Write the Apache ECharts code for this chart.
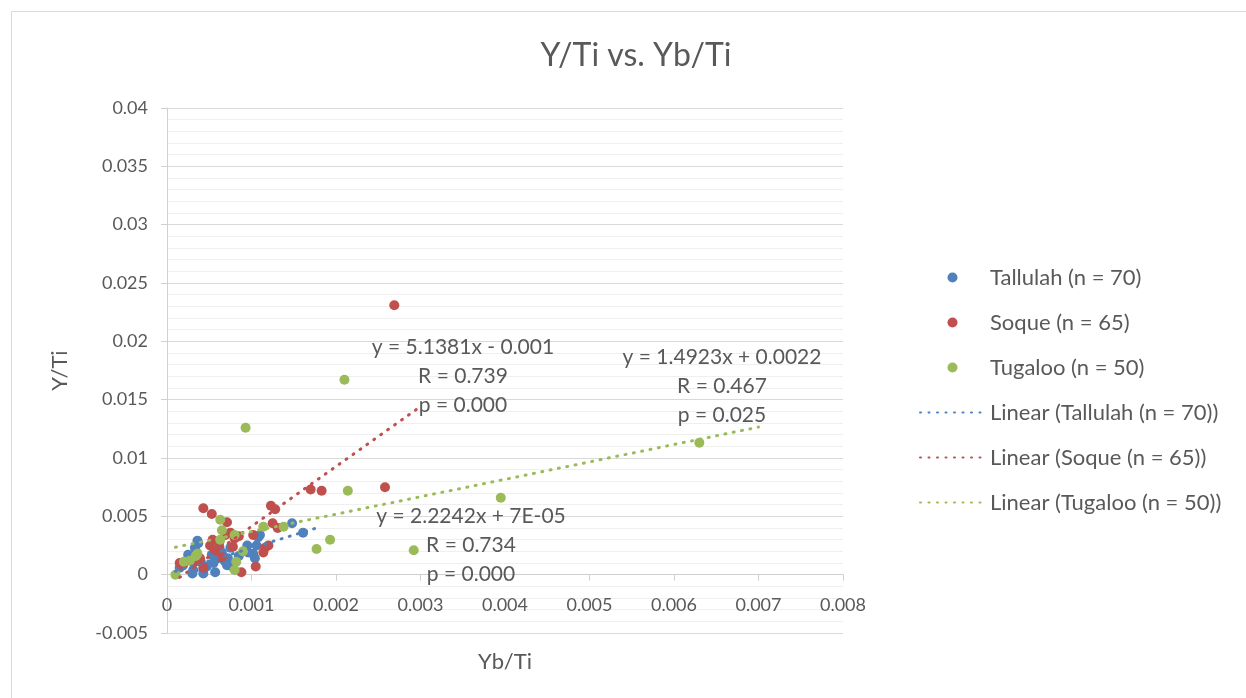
<!DOCTYPE html>
<html>
<head>
<meta charset="utf-8">
<style>
html,body{margin:0;padding:0;background:#fff;}
#chart{width:1246px;height:698px;}
</style>
<script src="https://cdn.jsdelivr.net/npm/echarts@6/dist/echarts.min.js"></script>
</head>
<body>
<div id="chart"></div>
<script>
// ---- Data ----
const seriesNames = ['Tallulah (n = 70)', 'Soque (n = 65)', 'Tugaloo (n = 50)'];
const trendNames = ['Linear (Tallulah (n = 70))', 'Linear (Soque (n = 65))', 'Linear (Tugaloo (n = 50))'];

const tallulah = [
  [0.00148,0.0044],[0.00161,0.0036],[0.00108,0.0032],[0.00106,0.0025],[0.00095,0.0025],
  [0.00102,0.0018],[0.00104,0.0014],[0.00096,0.0019],[0.00075,0.0023],[0.00072,0.0014],
  [0.00077,0.0007],[0.0006,0.0014],[0.00055,0.001],[0.00047,0.0007],[0.00043,0.0004],
  [0.00031,0.0004],[0.0003,0.0001],[0.00035,0.0019],[0.00037,0.0015],[0.00033,0.0023],
  [0.00025,0.0017],[0.00015,0.0006],[0.00019,0.0008],[0.00053,0.0017],[0.00065,0.0019],
  [0.00036,0.0029],[0.00043,0.0001],[0.00071,0.0008],[0.00057,0.0002],[0.00028,0.0012],
  [0.00062,0.0024],[0.00085,0.0016],[0.0004,0.0011],[0.00068,0.0012],[0.0011,0.0034],
  [0.00037,0.0027]
];
const soque = [
  [0.00269,0.0231],[0.00258,0.0075],[0.0017,0.0073],[0.00183,0.0072],[0.00123,0.0059],
  [0.00128,0.0056],[0.00043,0.0057],[0.00053,0.0052],[0.00071,0.0045],[0.00125,0.0044],
  [0.00131,0.004],[0.00102,0.0034],[0.00075,0.0036],[0.0008,0.0031],[0.00054,0.003],
  [0.00051,0.0025],[0.00057,0.0021],[0.00078,0.0024],[0.00116,0.0023],[0.0012,0.0025],
  [0.00105,0.0007],[0.00088,0.0002],[0.00043,0.0006],[0.00018,0.0008],[0.00015,0.001],
  [0.00033,0.0011],[0.00039,0.0014],[0.00069,0.0034],[0.00065,0.0015],[0.00114,0.0019],
  [0.00062,0.0028],[0.00085,0.0033]
];
const tugaloo = [
  [0.0063,0.0113],[0.00395,0.0066],[0.0021,0.0167],[0.00093,0.0126],[0.00214,0.0072],
  [0.00292,0.0021],[0.00193,0.003],[0.00177,0.0022],[0.00138,0.0041],[0.00114,0.0041],
  [0.0009,0.002],[0.00063,0.0047],[0.00065,0.0038],[0.00036,0.0018],[0.00027,0.0012],
  [0.0001,0.0],[0.00082,0.0011],[0.0008,0.0004],[0.0008,0.0034],[0.00063,0.003],
  [0.00034,0.0016],[0.0002,0.0011]
];

// Trendline end points (from the equations shown on the chart)
const tallulahTrend = [[0.0001,0.00029],[0.0018,0.00407]];
const soqueTrend = [[0.00015,-0.00023],[0.003,0.01441]];
const tugalooTrend = [[0.0001,0.00235],[0.007,0.01265]];

const trendLabels = [
  'y = 2.2242x + 7E-05\nR = 0.734\np = 0.000',
  'y = 5.1381x - 0.001\nR = 0.739\np = 0.000',
  'y = 1.4923x + 0.0022\nR = 0.467\np = 0.025'
];

const colors = ['#4F81BD', '#C0504D', '#9BBB59'];
const FONT = 'Lato, "Open Sans", sans-serif';
const TXT = '#595959';

const chart = echarts.init(document.getElementById('chart'), null, {renderer: 'canvas'});

function scatter(name, data, color) {
  return {
    name: name, type: 'scatter', data: data, symbol: 'circle', symbolSize: 10,
    itemStyle: {color: color, opacity: 1}, z: 2
  };
}
function trend(name, data, color) {
  return {
    name: name, type: 'line', data: data, symbol: 'none', showSymbol: false,
    lineStyle: {color: color, width: 3, type: [1, 7.5], cap: 'round'},
    itemStyle: {color: color}, z: 3, silent: true
  };
}
function annot(text, cx, top) {
  return {
    type: 'text', x: cx, y: top, z: 10, silent: true,
    style: {text: text, fontFamily: FONT, fontSize: 21, fill: TXT,
            textAlign: 'center', align: 'center', textVerticalAlign: 'top', verticalAlign: 'top', lineHeight: 28.7}
  };
}
const hiddenSym = {color: 'rgba(0,0,0,0)', borderWidth: 0, opacity: 0};

// y range -0.005..0.04 over 525px => zero line sits 58.33px above the bottom
const X_AXIS_OFFSET = -58.33;

const option = {
  backgroundColor: '#ffffff',
  animation: false,
  title: {
    text: 'Y/Ti vs. Yb/Ti', left: 631, top: 35, textAlign: 'center',
    textStyle: {fontFamily: FONT, fontSize: 32, fontWeight: 'normal', color: TXT}
  },
  grid: {left: 167, right: 403, top: 108, bottom: 65, containLabel: false, outerBoundsMode: 'none'},
  legend: {
    orient: 'vertical', left: 914, top: 261, itemWidth: 65, itemHeight: 10, itemGap: 22,
    textStyle: {fontFamily: FONT, fontSize: 22, color: TXT, lineHeight: 23},
    data: [
      {name: seriesNames[0], icon: 'circle'},
      {name: seriesNames[1], icon: 'circle'},
      {name: seriesNames[2], icon: 'circle'},
      {name: trendNames[0], itemStyle: hiddenSym},
      {name: trendNames[1], itemStyle: hiddenSym},
      {name: trendNames[2], itemStyle: hiddenSym}
    ]
  },
  xAxis: {
    type: 'value', min: 0, max: 0.008, interval: 0.001,
    offset: X_AXIS_OFFSET,
    name: 'Yb/Ti', nameLocation: 'middle', nameGap: 76, nameMoveOverlap: false,
    nameTextStyle: {fontFamily: FONT, fontSize: 22, color: TXT},
    axisLine: {show: true, onZero: false, lineStyle: {color: '#d0d0d0', width: 1}},
    axisTick: {show: true, length: 6, lineStyle: {color: '#d0d0d0'}},
    axisLabel: {fontFamily: FONT, fontSize: 18, color: TXT, margin: 22},
    splitLine: {show: false}
  },
  yAxis: {
    type: 'value', min: -0.005, max: 0.04, interval: 0.005,
    name: 'Y/Ti', nameLocation: 'middle', nameGap: 96, nameRotate: 90, nameMoveOverlap: false,
    nameTextStyle: {fontFamily: FONT, fontSize: 22, color: TXT},
    axisLine: {show: true, onZero: false, lineStyle: {color: '#d0d0d0', width: 1}},
    axisTick: {show: true, length: 6, lineStyle: {color: '#d0d0d0'}},
    axisLabel: {fontFamily: FONT, fontSize: 18, color: TXT, margin: 19},
    splitLine: {show: true, lineStyle: {color: '#d9d9d9', width: 1}},
    minorTick: {show: false, splitNumber: 5},
    minorSplitLine: {show: true, lineStyle: {color: '#efefef', width: 1}}
  },
  graphic: [
    {type: 'rect', left: 9, top: 9, silent: true, z: -10,
     shape: {width: 1300, height: 800},
     style: {fill: 'none', stroke: '#d9d9d9', lineWidth: 1}},
    annot(trendLabels[0], 471, 502),
    annot(trendLabels[1], 463, 333),
    annot(trendLabels[2], 722, 343)
  ],
  series: [
    scatter(seriesNames[0], tallulah, colors[0]),
    scatter(seriesNames[1], soque, colors[1]),
    scatter(seriesNames[2], tugaloo, colors[2]),
    trend(trendNames[0], tallulahTrend, colors[0]),
    trend(trendNames[1], soqueTrend, colors[1]),
    trend(trendNames[2], tugalooTrend, colors[2])
  ]
};
chart.setOption(option);
</script>
</body>
</html>
